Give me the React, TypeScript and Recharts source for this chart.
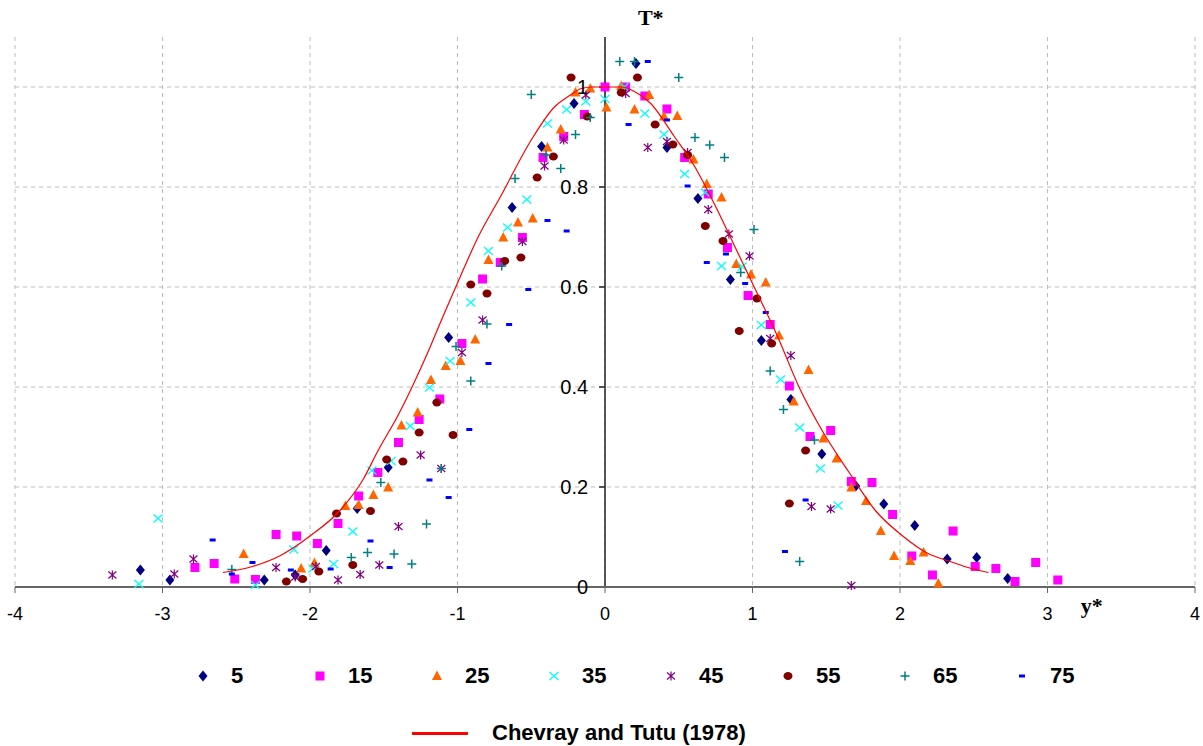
import React from 'react';
import {
  ScatterChart,
  Scatter,
  XAxis,
  YAxis,
  CartesianGrid,
  ReferenceLine,
  ReferenceDot,
  Legend,
} from 'recharts';

// T* profiles at different stations
const X_TICKS = [-4, -3, -2, -1, 0, 1, 2, 3, 4];
const Y_TICKS = [0, 0.2, 0.4, 0.6, 0.8, 1];
const Y_TICK_LABELS = ['0', '0.2', '0.4', '0.6', '0.8', '1'];

const S5: [number, number][] = [
  [-3.15, 0.034], [-2.95, 0.014], [-2.31, 0.014], [-2.1, 0.024], [-1.89, 0.073], [-1.68, 0.157],
  [-1.47, 0.239], [-1.06, 0.499], [-0.63, 0.759], [-0.43, 0.881], [-0.21, 0.967], [0, 1.0],
  [0.21, 1.047], [0.42, 0.879], [0.63, 0.777], [0.85, 0.615], [1.06, 0.493], [1.26, 0.375],
  [1.47, 0.266], [1.7, 0.202], [1.89, 0.166], [2.1, 0.123], [2.32, 0.056], [2.52, 0.059], [2.73, 0.017],
];

const S15: [number, number][] = [
  [-2.78, 0.039], [-2.65, 0.047], [-2.51, 0.016], [-2.37, 0.015], [-2.23, 0.105], [-2.09, 0.102],
  [-1.95, 0.087], [-1.81, 0.127], [-1.67, 0.182], [-1.54, 0.229], [-1.4, 0.289], [-1.26, 0.335],
  [-1.12, 0.376], [-0.97, 0.487], [-0.83, 0.616], [-0.71, 0.649], [-0.56, 0.699], [-0.42, 0.859],
  [-0.28, 0.901], [-0.14, 0.945], [0, 1.0], [0.14, 1.0], [0.27, 0.982], [0.42, 0.956], [0.54, 0.859],
  [0.7, 0.786], [0.83, 0.679], [0.97, 0.583], [1.12, 0.525], [1.25, 0.402], [1.39, 0.301], [1.53, 0.313],
  [1.67, 0.211], [1.81, 0.209], [1.95, 0.145], [2.08, 0.062], [2.22, 0.024], [2.36, 0.112], [2.51, 0.041],
  [2.65, 0.037], [2.78, 0.011], [2.92, 0.049], [3.07, 0.014],
];

const S25: [number, number][] = [
  [-2.45, 0.066], [-2.06, 0.037], [-1.97, 0.048], [-1.76, 0.162], [-1.67, 0.164], [-1.57, 0.184],
  [-1.47, 0.199], [-1.38, 0.323], [-1.27, 0.349], [-1.18, 0.414], [-1.08, 0.442], [-0.98, 0.452],
  [-0.88, 0.495], [-0.79, 0.654], [-0.69, 0.699], [-0.59, 0.729], [-0.49, 0.737], [-0.39, 0.879],
  [-0.3, 0.915], [-0.2, 0.989], [-0.1, 0.997], [0.01, 0.959], [0.11, 1.002], [0.2, 0.955], [0.3, 0.984],
  [0.4, 0.941], [0.49, 0.942], [0.6, 0.855], [0.69, 0.806], [0.79, 0.779], [0.89, 0.646], [0.99, 0.625],
  [1.09, 0.609], [1.18, 0.503], [1.28, 0.371], [1.38, 0.434], [1.48, 0.297], [1.57, 0.257], [1.67, 0.199],
  [1.77, 0.172], [1.87, 0.112], [1.96, 0.062], [2.07, 0.052], [2.16, 0.069], [2.26, 0.007],
];

const S35: [number, number][] = [
  [-3.16, 0.006], [-3.03, 0.137], [-2.37, 0.004], [-2.11, 0.075], [-1.98, 0.037], [-1.84, 0.046],
  [-1.71, 0.111], [-1.58, 0.233], [-1.45, 0.252], [-1.32, 0.322], [-1.19, 0.399], [-1.05, 0.452],
  [-0.91, 0.569], [-0.79, 0.672], [-0.66, 0.719], [-0.53, 0.775], [-0.39, 0.927], [-0.26, 0.955],
  [-0.13, 0.971], [0, 0.976], [0.13, 1.0], [0.27, 0.947], [0.4, 0.905], [0.54, 0.826], [0.68, 0.789],
  [0.79, 0.642], [0.93, 0.641], [1.06, 0.524], [1.19, 0.415], [1.32, 0.319], [1.46, 0.237], [1.58, 0.163],
];

const S45: [number, number][] = [
  [-3.34, 0.024], [-2.92, 0.026], [-2.79, 0.056], [-2.23, 0.039], [-2.1, 0.02], [-1.96, 0.041],
  [-1.81, 0.014], [-1.66, 0.025], [-1.53, 0.044], [-1.4, 0.121], [-1.25, 0.264], [-1.11, 0.237],
  [-0.97, 0.469], [-0.83, 0.534], [-0.56, 0.691], [-0.41, 0.842], [-0.28, 0.894], [-0.13, 0.984],
  [0.14, 0.987], [0.29, 0.879], [0.42, 0.891], [0.56, 0.869], [0.7, 0.755], [0.84, 0.706], [0.98, 0.662],
  [1.12, 0.497], [1.26, 0.463], [1.4, 0.161], [1.53, 0.156], [1.67, 0.003],
];

const S55: [number, number][] = [
  [-2.16, 0.011], [-2.05, 0.016], [-1.94, 0.031], [-1.82, 0.147], [-1.71, 0.044], [-1.59, 0.152],
  [-1.48, 0.255], [-1.37, 0.251], [-1.26, 0.309], [-1.14, 0.369], [-1.03, 0.304], [-0.91, 0.605],
  [-0.8, 0.587], [-0.68, 0.652], [-0.57, 0.659], [-0.46, 0.819], [-0.35, 0.861], [-0.23, 1.019],
  [-0.12, 0.941], [0.11, 0.989], [0.22, 1.019], [0.34, 0.925], [0.46, 0.885], [0.56, 0.864],
  [0.68, 0.722], [0.8, 0.692], [0.91, 0.512], [1.03, 0.577], [1.13, 0.487], [1.25, 0.167], [1.36, 0.273],
];

const S65: [number, number][] = [
  [-2.53, 0.035], [-1.72, 0.059], [-1.61, 0.069], [-1.52, 0.209], [-1.43, 0.066], [-1.31, 0.046],
  [-1.21, 0.126], [-1.11, 0.237], [-1.01, 0.481], [-0.91, 0.412], [-0.8, 0.526], [-0.7, 0.642],
  [-0.61, 0.817], [-0.5, 0.985], [-0.4, 0.864], [-0.3, 0.837], [-0.2, 0.905], [-0.1, 0.939],
  [0.1, 1.051], [0.2, 1.051], [0.5, 1.019], [0.61, 0.899], [0.71, 0.884], [0.81, 0.859], [0.92, 0.629],
  [1.01, 0.715], [1.12, 0.432], [1.21, 0.355], [1.32, 0.051], [1.42, 0.294],
];

const S75: [number, number][] = [
  [-2.66, 0.094], [-2.53, 0.026], [-2.39, 0.049], [-2.13, 0.034], [-1.86, 0.036], [-1.59, 0.092],
  [-1.46, 0.039], [-1.19, 0.214], [-1.06, 0.179], [-0.92, 0.315], [-0.79, 0.447], [-0.65, 0.525],
  [-0.52, 0.595], [-0.39, 0.733], [-0.26, 0.712], [0.16, 0.925], [0.29, 1.051], [0.42, 0.934],
  [0.56, 0.802], [0.69, 0.649], [0.82, 0.666], [0.95, 0.607], [1.09, 0.549], [1.22, 0.071], [1.36, 0.174],
];

// Chevray and Tutu (1978) curve
const CHEVRAY: [number, number][] = [
  [-2.59, 0.029], [-2.39, 0.041], [-2.2, 0.063], [-2.0, 0.102], [-1.8, 0.152], [-1.64, 0.215],
  [-1.54, 0.272], [-1.4, 0.345], [-1.3, 0.405], [-1.2, 0.47], [-1.1, 0.54], [-1.0, 0.608],
  [-0.86, 0.7], [-0.71, 0.78], [-0.5, 0.894], [-0.34, 0.961], [-0.24, 0.983], [-0.16, 0.997],
  [-0.08, 1.0], [0.11, 1.0], [0.2, 0.991], [0.31, 0.967], [0.47, 0.901], [0.6, 0.845], [0.74, 0.767],
  [0.88, 0.681], [1.01, 0.601], [1.17, 0.501], [1.32, 0.397], [1.47, 0.314], [1.66, 0.227],
  [1.83, 0.154], [2.01, 0.104], [2.19, 0.067], [2.33, 0.052], [2.45, 0.04], [2.6, 0.029],
];

type Kind = 'diamond' | 'square' | 'triangle' | 'x' | 'asterisk' | 'circle' | 'plus' | 'dash';

const SERIES: { name: string; points: [number, number][]; kind: Kind; color: string }[] = [
  { name: '5', points: S5, kind: 'diamond', color: '#000080' },
  { name: '15', points: S15, kind: 'square', color: '#FF00FF' },
  { name: '25', points: S25, kind: 'triangle', color: '#FF6600' },
  { name: '35', points: S35, kind: 'x', color: '#00FFFF' },
  { name: '45', points: S45, kind: 'asterisk', color: '#800080' },
  { name: '55', points: S55, kind: 'circle', color: '#800000' },
  { name: '65', points: S65, kind: 'plus', color: '#008080' },
  { name: '75', points: S75, kind: 'dash', color: '#0000FF' },
];

const SANS = 'Arial, "Liberation Sans", sans-serif';
const SERIF = '"Times New Roman", "Liberation Serif", serif';

const toRows = (pts: [number, number][]) => pts.map(([x, y]) => ({ x, y }));

function Marker({ kind, color, cx, cy }: { kind: Kind; color: string; cx: number; cy: number }) {
  switch (kind) {
    case 'diamond':
      return <polygon points={`${cx},${cy - 5.5} ${cx + 4.5},${cy} ${cx},${cy + 5.5} ${cx - 4.5},${cy}`} fill={color} />;
    case 'square':
      return <rect x={cx - 4.5} y={cy - 4.5} width={9} height={9} fill={color} />;
    case 'triangle':
      return <polygon points={`${cx},${cy - 5.5} ${cx + 5},${cy + 4} ${cx - 5},${cy + 4}`} fill={color} />;
    case 'x':
      return (
        <path
          d={`M${cx - 4.5},${cy - 4} L${cx + 4.5},${cy + 4} M${cx + 4.5},${cy - 4} L${cx - 4.5},${cy + 4}`}
          stroke={color}
          strokeWidth={1.3}
          fill="none"
        />
      );
    case 'asterisk':
      return (
        <path
          d={`M${cx - 4},${cy - 3.5} L${cx + 4},${cy + 3.5} M${cx + 4},${cy - 3.5} L${cx - 4},${cy + 3.5} M${cx},${cy - 4.5} L${cx},${cy + 4.5}`}
          stroke={color}
          strokeWidth={1.2}
          fill="none"
        />
      );
    case 'circle':
      return <ellipse cx={cx} cy={cy} rx={4.5} ry={4} fill={color} />;
    case 'plus':
      return (
        <path
          d={`M${cx - 4.5},${cy} L${cx + 4.5},${cy} M${cx},${cy - 4.5} L${cx},${cy + 4.5}`}
          stroke={color}
          strokeWidth={1.5}
          fill="none"
        />
      );
    case 'dash':
    default:
      return <rect x={cx - 3} y={cy - 1.5} width={6} height={3} fill={color} />;
  }
}

const LegendBox = () => (
  <div style={{ fontFamily: SANS, fontWeight: 'bold', fontSize: 22, color: '#000' }}>
    <div style={{ display: 'flex', alignItems: 'center', height: 30, paddingLeft: 196, marginTop: 3 }}>
      {SERIES.map((s) => (
        <div key={s.name} style={{ display: 'flex', alignItems: 'center', marginRight: 57 }}>
          <svg width={14} height={14}>
            <Marker kind={s.kind} color={s.color} cx={7} cy={7} />
          </svg>
          <span style={{ marginLeft: 21, minWidth: 25 }}>{s.name}</span>
        </div>
      ))}
    </div>
    <div style={{ display: 'flex', alignItems: 'center', height: 30, marginTop: 27, paddingLeft: 412 }}>
      <div style={{ width: 56, height: 3, background: '#FF0000' }} />
      <span style={{ marginLeft: 24 }}>Chevray and Tutu (1978)</span>
    </div>
  </div>
);

const noShape = () => <g />;

export default function App() {
  return (
    <div style={{ position: 'absolute', left: 0, top: 0, width: 1203, height: 746, background: '#fff' }}>
      <ScatterChart width={1203} height={746} margin={{ top: 37, right: 8, left: 15, bottom: 119 }}>
        <CartesianGrid
          stroke="#bdbdbd"
          strokeDasharray="4 4"
          horizontalValues={[0.2, 0.4, 0.6, 0.8, 1]}
          verticalValues={X_TICKS}
        />
        <XAxis
          type="number"
          dataKey="x"
          domain={[-4, 4]}
          ticks={X_TICKS}
          interval={0}
          height={40}
          tickSize={6}
          tickMargin={14}
          axisLine={{ stroke: '#666', strokeWidth: 2 }}
          tickLine={{ stroke: '#666' }}
          tick={{ fill: '#000', fontSize: 18, fontFamily: SANS }}
        />
        <YAxis type="number" dataKey="y" domain={[0, 1.1]} hide />
        <ReferenceLine x={0} stroke="#222" strokeWidth={1.5} />
        {Y_TICKS.map((v, i) => (
          <ReferenceLine
            key={v}
            segment={[{ x: -0.04, y: v }, { x: 0, y: v }]}
            stroke="#222"
            strokeWidth={1.5}
            label={{ value: Y_TICK_LABELS[i], position: 'left', offset: 11, fill: '#000', fontSize: 20, fontFamily: SANS }}
          />
        ))}
        {SERIES.map((s) => (
          <Scatter
            key={s.name}
            name={s.name}
            data={toRows(s.points)}
            isAnimationActive={false}
            shape={(p: any) => <Marker kind={s.kind} color={s.color} cx={p.cx} cy={p.cy} />}
          />
        ))}
        <Scatter
          name="Chevray and Tutu (1978)"
          data={toRows(CHEVRAY)}
          isAnimationActive={false}
          line={{ stroke: '#FF0000', strokeWidth: 1.2 }}
          lineJointType="monotoneX"
          shape={noShape}
        />
        <ReferenceDot
          x={0.31}
          y={1.1}
          r={0}
          fill="none"
          stroke="none"
          label={{ value: 'T*', position: 'top', offset: 12, fill: '#000', fontSize: 22, fontWeight: 'bold', fontFamily: SERIF }}
        />
        <ReferenceDot
          x={3.3}
          y={0}
          r={0}
          fill="none"
          stroke="none"
          label={{ value: 'y*', position: 'bottom', offset: 10, fill: '#000', fontSize: 22, fontWeight: 'bold', fontFamily: SERIF }}
        />
        <Legend
          verticalAlign="middle"
          align="center"
          layout="horizontal"
          wrapperStyle={{ top: 658, left: 0, width: 1203, height: 100 }}
          content={() => <LegendBox />}
        />
      </ScatterChart>
    </div>
  );
}
